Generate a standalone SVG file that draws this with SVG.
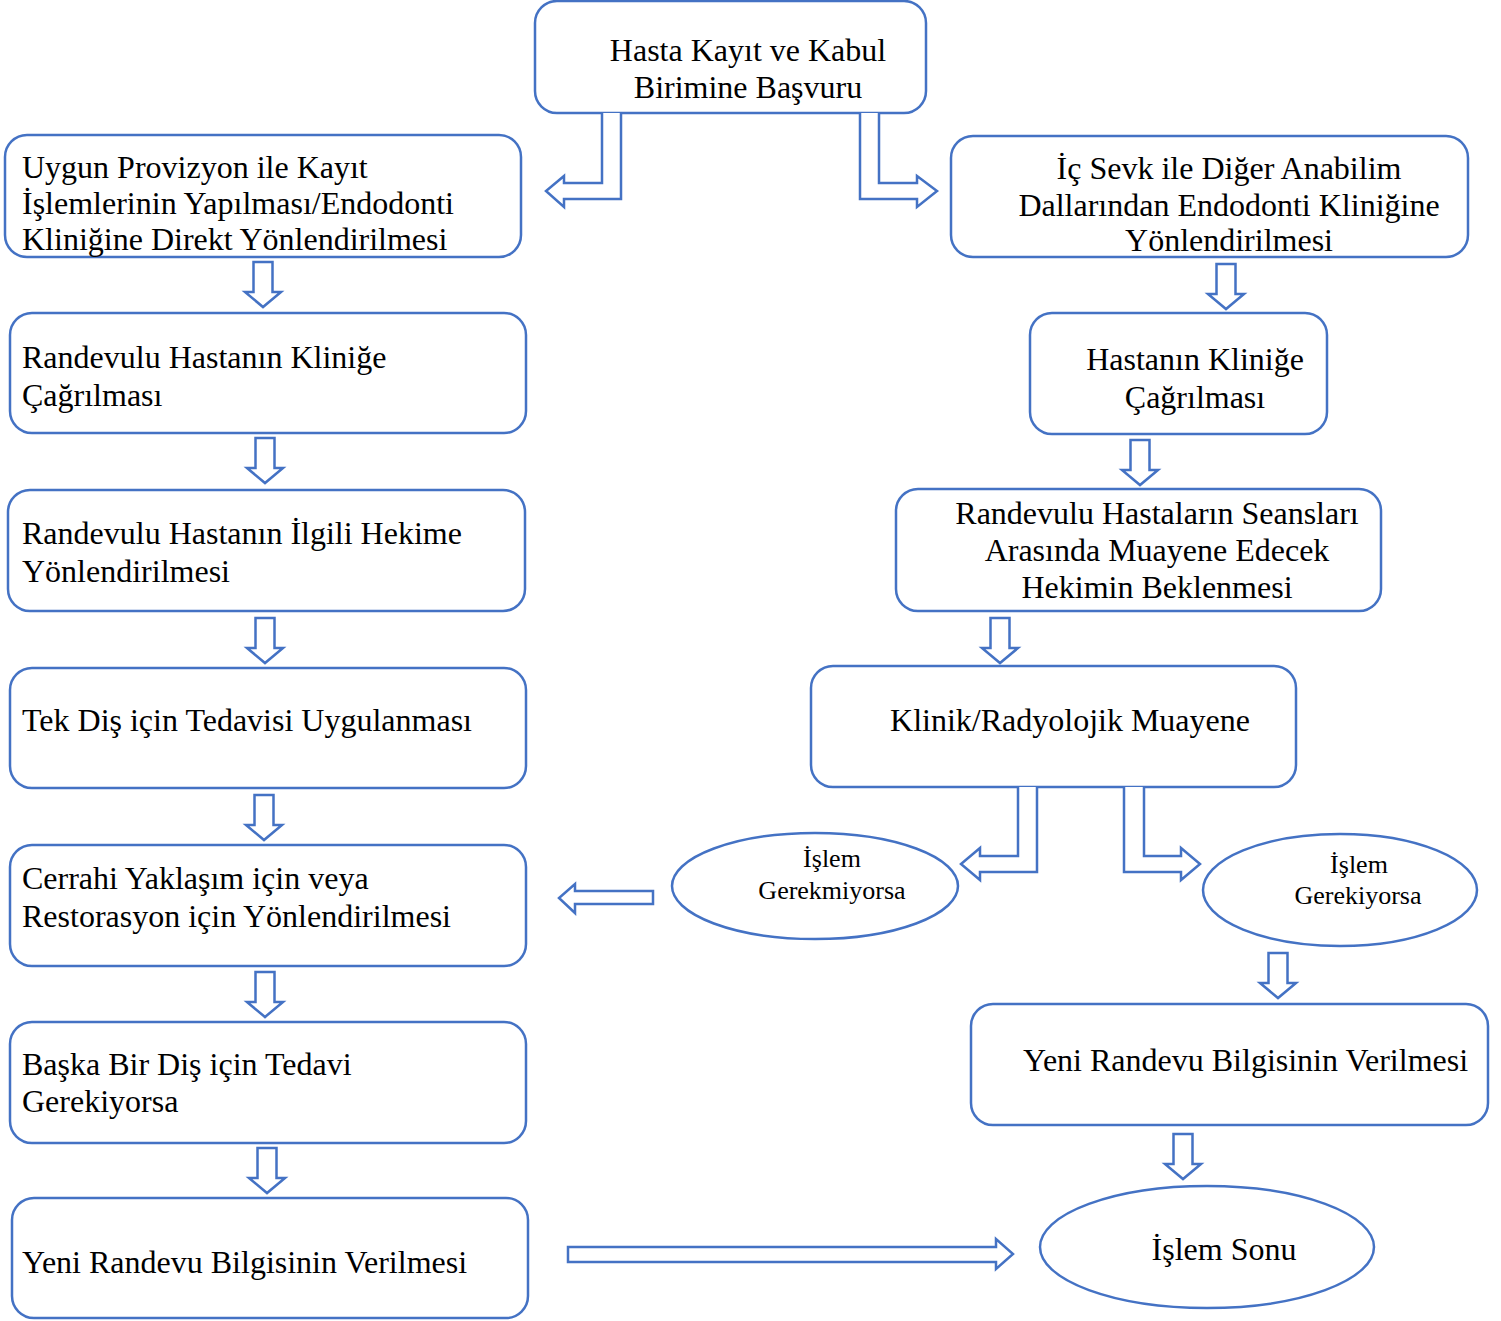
<svg xmlns="http://www.w3.org/2000/svg" width="1501" height="1321" viewBox="0 0 1501 1321">
<style>
.b{fill:#fff;stroke:#4472C4;stroke-width:2.5}
.a{fill:#fff;stroke:#4472C4;stroke-width:2.5;stroke-linejoin:miter}
.t{font-family:"Liberation Serif","Times New Roman",serif;font-size:32px;fill:#000}
.s{font-family:"Liberation Serif","Times New Roman",serif;font-size:26px;fill:#000}
.m{text-anchor:middle}
</style>
<defs>
<path id="dn" d="M-9.5,0 L9.5,0 L9.5,30 L18,30 L0,45 L-18,30 L-9.5,30 Z"/>
</defs>
<rect width="1501" height="1321" fill="#fff"/>
<g id="n1"><rect class="b" x="535" y="1" width="391" height="112" rx="22"/><text class="t m" x="748" y="61">Hasta Kayıt ve Kabul</text><text class="t m" x="748" y="98">Birimine Başvuru</text></g>
<g id="l1"><rect class="b" x="5" y="135" width="516" height="122" rx="22"/><text class="t" x="22" y="178">Uygun Provizyon ile Kayıt</text><text class="t" x="22" y="214">İşlemlerinin Yapılması/Endodonti</text><text class="t" x="22" y="250">Kliniğine Direkt Yönlendirilmesi</text></g>
<g id="l2"><rect class="b" x="10" y="313" width="516" height="120" rx="22"/><text class="t" x="22" y="368">Randevulu Hastanın Kliniğe</text><text class="t" x="22" y="406">Çağrılması</text></g>
<g id="l3"><rect class="b" x="8" y="490" width="517" height="121" rx="22"/><text class="t" x="22" y="544">Randevulu Hastanın İlgili Hekime</text><text class="t" x="22" y="582">Yönlendirilmesi</text></g>
<g id="l4"><rect class="b" x="10" y="668" width="516" height="120" rx="22"/><text class="t" x="22" y="731">Tek Diş için Tedavisi Uygulanması</text></g>
<g id="l5"><rect class="b" x="10" y="845" width="516" height="121" rx="22"/><text class="t" x="22" y="889">Cerrahi Yaklaşım için veya</text><text class="t" x="22" y="927">Restorasyon için Yönlendirilmesi</text></g>
<g id="l6"><rect class="b" x="10" y="1022" width="516" height="121" rx="22"/><text class="t" x="22" y="1075">Başka Bir Diş için Tedavi</text><text class="t" x="22" y="1112">Gerekiyorsa</text></g>
<g id="l7"><rect class="b" x="12" y="1198" width="516" height="120" rx="22"/><text class="t" x="22" y="1273">Yeni Randevu Bilgisinin Verilmesi</text></g>
<g id="r1"><rect class="b" x="951" y="136" width="517" height="121" rx="22"/><text class="t m" x="1229" y="179">İç Sevk ile Diğer Anabilim</text><text class="t m" x="1229" y="216">Dallarından Endodonti Kliniğine</text><text class="t m" x="1229" y="251">Yönlendirilmesi</text></g>
<g id="r2"><rect class="b" x="1030" y="313" width="297" height="121" rx="22"/><text class="t m" x="1195" y="370">Hastanın Kliniğe</text><text class="t m" x="1195" y="408">Çağrılması</text></g>
<g id="r3"><rect class="b" x="896" y="489" width="485" height="122" rx="22"/><text class="t m" x="1157" y="524">Randevulu Hastaların Seansları</text><text class="t m" x="1157" y="561">Arasında Muayene Edecek</text><text class="t m" x="1157" y="598">Hekimin Beklenmesi</text></g>
<g id="r4"><rect class="b" x="811" y="666" width="485" height="121" rx="22"/><text class="t m" x="1070" y="731">Klinik/Radyolojik Muayene</text></g>
<g id="e1"><ellipse class="b" cx="815" cy="886" rx="143" ry="53"/><text class="s m" x="832" y="867">İşlem</text><text class="s m" x="832" y="899">Gerekmiyorsa</text></g>
<g id="e2"><ellipse class="b" cx="1340" cy="890" rx="137" ry="56"/><text class="s m" x="1359" y="873">İşlem</text><text class="s m" x="1358" y="904">Gerekiyorsa</text></g>
<g id="r5"><rect class="b" x="971" y="1004" width="517" height="121" rx="22"/><text class="t" x="1023" y="1071">Yeni Randevu Bilgisinin Verilmesi</text></g>
<g id="e3"><ellipse class="b" cx="1207" cy="1247" rx="167" ry="61"/><text class="t m" x="1224" y="1260">İşlem Sonu</text></g>
<g id="connectors">
<path class="a" d="M602,113 L602,183 L564,183 L564,176 L546,191 L564,207 L564,199 L621,199 L621,113"/>
<path class="a" d="M860,113 L860,199 L917,199 L917,207 L937,191 L917,176 L917,183 L879,183 L879,113"/>
<use class="a" href="#dn" x="263" y="262"/>
<use class="a" href="#dn" x="265" y="438"/>
<use class="a" href="#dn" x="265" y="618"/>
<use class="a" href="#dn" x="264" y="795"/>
<use class="a" href="#dn" x="265" y="972"/>
<use class="a" href="#dn" x="267" y="1148"/>
<use class="a" href="#dn" x="1226" y="264"/>
<use class="a" href="#dn" x="1140" y="440"/>
<use class="a" href="#dn" x="1000" y="618"/>
<use class="a" href="#dn" x="1278" y="953"/>
<use class="a" href="#dn" x="1183" y="1134"/>
<path class="a" d="M1018,787 L1018,856 L980,856 L980,848 L961,864 L980,880 L980,872 L1037,872 L1037,787"/>
<path class="a" d="M1124,787 L1124,872 L1181,872 L1181,880 L1200,864 L1181,848 L1181,856 L1144,856 L1144,787"/>
<path class="a" d="M653,891 L575,891 L575,884 L559,898 L575,913 L575,904 L653,904 Z"/>
<path class="a" d="M568,1247 L996,1247 L996,1239 L1013,1254 L996,1269 L996,1262 L568,1262 Z"/>
</g>
</svg>
